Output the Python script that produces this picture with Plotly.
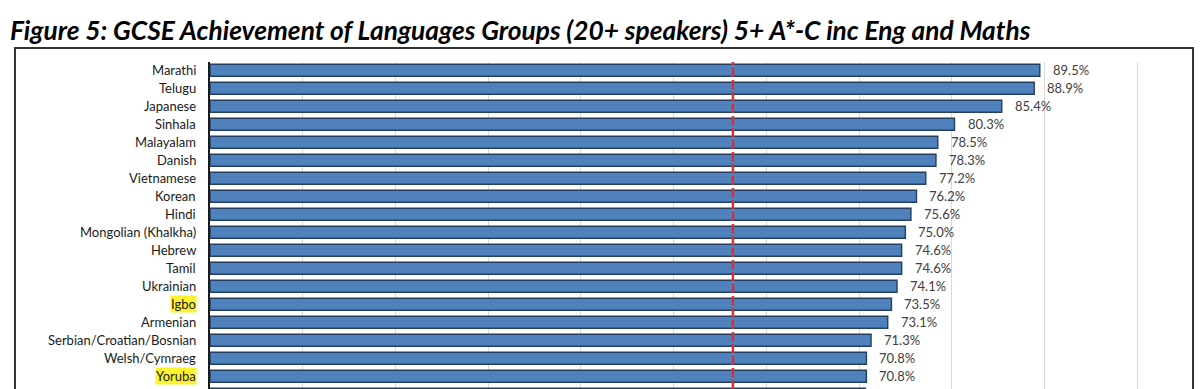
import plotly.graph_objects as go

languages = ["Marathi", "Telugu", "Japanese", "Sinhala", "Malayalam", "Danish",
             "Vietnamese", "Korean", "Hindi", "Mongolian (Khalkha)", "Hebrew", "Tamil",
             "Ukrainian", "Igbo", "Armenian", "Serbian/Croatian/Bosnian",
             "Welsh/Cymraeg", "Yoruba", "Sebuano"]
values = [89.5, 88.9, 85.4, 80.3, 78.5, 78.3, 77.2, 76.2, 75.6, 75.0, 74.6, 74.6,
          74.1, 73.5, 73.1, 71.3, 70.8, 70.8, 70.7]
highlighted = ["Igbo", "Yoruba"]
national_average = 56.4
x_ticks = [0, 10, 20, 30, 40, 50, 60, 70, 80, 90, 100]

W, H = 1200, 389
ML, MR, MT, MB = 210, 61, 62, 0
pw = W - ML - MR
ph = H - MT - MB

def px_to_paper_x(px):
    return (px - ML) / pw

def px_to_paper_y(py):
    return 1 - (py - MT) / ph

FONT = "Lato"

fig = go.Figure()
fig.add_trace(go.Bar(
    y=languages, x=values, orientation="h",
    marker=dict(color="#4F81BD", line=dict(color="#243F60", width=1.4)),
    hoverinfo="skip",
))

annotations = []
for lang, v in zip(languages, values):
    annotations.append(dict(
        x=v, y=lang, xref="x", yref="y", text=f"{v:.1f}%", showarrow=False,
        xanchor="left", xshift=11, font=dict(family=FONT, size=13, color="#404040"),
    ))
    annotations.append(dict(
        x=0, y=lang, xref="paper", yref="y", text=lang, showarrow=False,
        xanchor="right", xshift=-13,
        font=dict(family=FONT, size=13, color="#1a1a1a"),
        bgcolor="#FFF22E" if lang in highlighted else None,
        borderpad=0,
    ))

shapes = [
    dict(type="line", xref="x", yref="paper", x0=national_average, x1=national_average,
         y0=0, y1=1, line=dict(color="#D0343A", width=2.5, dash="9px,3px"), layer="above"),
    dict(type="rect", xref="paper", yref="paper",
         x0=px_to_paper_x(15), x1=px_to_paper_x(1193),
         y0=-0.2, y1=px_to_paper_y(48),
         line=dict(color="#333333", width=2), fillcolor="rgba(0,0,0,0)", layer="above"),
]

fig.update_layout(
    width=W, height=H,
    margin=dict(l=ML, r=MR, t=MT, b=MB, pad=0),
    paper_bgcolor="white", plot_bgcolor="white",
    showlegend=False,
    bargap=0.33,
    title=dict(
        text="<b><i>Figure 5: GCSE Achievement of Languages Groups (20+ speakers) 5+ A*-C inc Eng and Maths</i></b>",
        xref="container", yref="container", x=10 / W, xanchor="left",
        y=1 - 31 / H, yanchor="middle",
        font=dict(family=FONT, size=26.3, color="#000000"),
    ),
    xaxis=dict(range=[0, 100.2], tickvals=x_ticks, showticklabels=False, showgrid=True,
               gridcolor="#D9D9D9", gridwidth=1, zeroline=False, showline=False,
               fixedrange=True),
    yaxis=dict(type="category", categoryorder="array", categoryarray=languages,
               range=[17.71, -0.46], showticklabels=False, showline=True,
               linecolor="#1a1a1a", linewidth=1.5, showgrid=False, ticks="",
               fixedrange=True),
    annotations=annotations,
    shapes=shapes,
)

fig.write_html("out.html", config={"displayModeBar": False},
               post_script="document.body.style.margin='0';document.body.style.overflow='hidden';")
